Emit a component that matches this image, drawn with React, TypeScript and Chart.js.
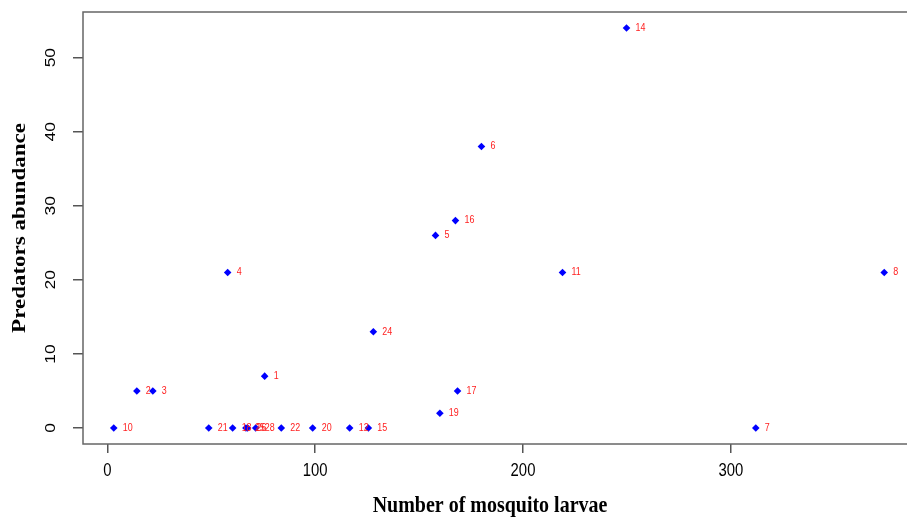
import React, { useEffect, useRef } from "react";
import { Chart, registerables } from "chart.js";

Chart.register(...registerables);

const siteLabels = ["1", "2", "3", "4", "5", "6", "7", "8", "10", "11", "12", "14", "15", "16", "17", "18", "19", "20", "21", "22", "24", "25", "26", "28"];
const larvae = [75.7, 14.2, 21.9, 57.9, 157.9, 180, 312, 373.8, 3.1, 219, 116.6, 249.8, 125.6, 167.5, 168.5, 60.3, 160, 98.8, 48.8, 83.7, 128, 66.7, 67.5, 71.4];
const predators = [7, 5, 5, 21, 26, 38, 0, 21, 0, 21, 0, 54, 0, 28, 5, 0, 2, 0, 0, 0, 13, 0, 0, 0];
const xTickValues = [0, 100, 200, 300];
const yTickValues = [0, 10, 20, 30, 40, 50];
const xTitle = "Number of mosquito larvae";
const yTitle = "Predators abundance";

const SQ = 0.85; // horizontal squeeze of the reference's text

function drawText(ctx: CanvasRenderingContext2D, text: string, x: number, y: number, font: string, rotated: boolean, align: CanvasTextAlign = "center") {
  ctx.save();
  ctx.font = font;
  ctx.textAlign = align;
  ctx.textBaseline = "middle";
  ctx.translate(x, y);
  if (rotated) {
    ctx.rotate(-Math.PI / 2);
    ctx.scale(1, SQ);
  } else {
    ctx.scale(SQ, 1);
  }
  ctx.fillText(text, 0, 0);
  ctx.restore();
}

export default function App() {
  const ref = useRef<HTMLCanvasElement | null>(null);

  useEffect(() => {
    if (!ref.current) return;
    const pointData = larvae.map((x, i) => ({ x, y: predators[i] }));
    const sans = "'Liberation Sans', Arial, sans-serif";
    const serif = "'Liberation Serif', 'Times New Roman', serif";

    const decor = {
      id: "decor",
      afterDatasetsDraw(chart: any) {
        const ctx = chart.ctx;
        const meta = chart.getDatasetMeta(0);
        ctx.save();
        ctx.fillStyle = "#ff2020";
        meta.data.forEach((el: any, i: number) => {
          drawText(ctx, siteLabels[i], el.x + 9, el.y, `10.5px ${sans}`, false, "left");
        });
        ctx.restore();
      },
      afterDraw(chart: any) {
        const ctx = chart.ctx;
        const a = chart.chartArea;
        ctx.save();
        ctx.strokeStyle = "#666";
        ctx.lineWidth = 1.5;
        ctx.strokeRect(a.left, a.top, a.right - a.left, a.bottom - a.top);
        ctx.fillStyle = "#000";
        const ys = chart.scales.y;
        yTickValues.forEach((v) => {
          drawText(ctx, String(v), 51, ys.getPixelForValue(v), `17.5px ${sans}`, true);
        });
        const xs = chart.scales.x;
        xTickValues.forEach((v) => {
          drawText(ctx, String(v), xs.getPixelForValue(v), 471, `17.5px ${sans}`, false);
        });
        drawText(ctx, xTitle, 490, 506, `bold 23.5px ${serif}`, false);
        drawText(ctx, yTitle, 20, (a.top + a.bottom) / 2, `bold 23px ${serif}`, true);
        ctx.restore();
      },
    };

    const chart = new Chart(ref.current, {
      type: "scatter",
      data: {
        datasets: [
          {
            data: pointData,
            backgroundColor: "#0000ff",
            borderWidth: 0,
            pointStyle: "rectRot",
            pointRadius: 3.8,
          },
        ],
      },
      options: {
        responsive: false,
        animation: false,
        layout: { padding: { left: 0, top: 12, right: 5, bottom: 0 } },
        plugins: { legend: { display: false }, tooltip: { enabled: false } },
        scales: {
          x: {
            type: "linear",
            min: -11.7,
            max: 388.6,
            afterBuildTicks: (s: any) => {
              s.ticks = xTickValues.map((v) => ({ value: v }));
            },
            afterFit: (s: any) => {
              s.height = 75;
            },
            grid: { display: true, drawOnChartArea: false, drawTicks: true, tickLength: 9, color: "#555", lineWidth: 1.5 },
            border: { display: false },
            ticks: { display: false },
          },
          y: {
            type: "linear",
            min: -2.16,
            max: 56.16,
            afterBuildTicks: (s: any) => {
              s.ticks = yTickValues.map((v) => ({ value: v }));
            },
            afterFit: (s: any) => {
              s.width = 83;
            },
            grid: { display: true, drawOnChartArea: false, drawTicks: true, tickLength: 10, color: "#555", lineWidth: 1.5 },
            border: { display: false },
            ticks: { display: false },
          },
        },
      },
      plugins: [decor],
    });
    return () => chart.destroy();
  }, []);

  return (
    <div style={{ position: "fixed", left: 0, top: 0, width: 907, height: 519, overflow: "hidden", background: "#fff" }}>
      <canvas ref={ref} width={920} height={519} />
    </div>
  );
}
